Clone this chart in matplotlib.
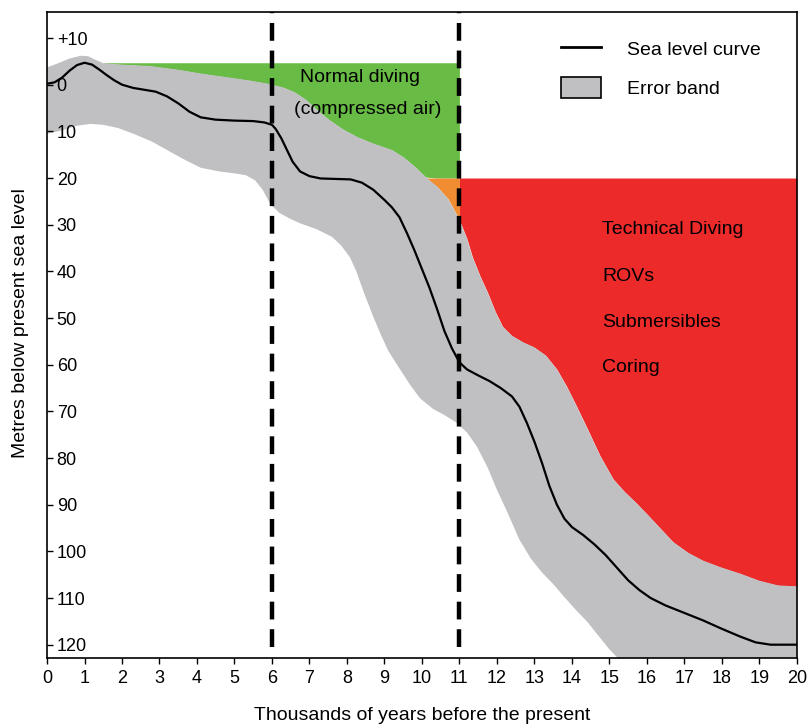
import numpy as np
import matplotlib
matplotlib.use("Agg")
import matplotlib.pyplot as plt
from matplotlib.lines import Line2D
from matplotlib.patches import Patch

plt.rcParams['font.family'] = ['Liberation Sans', 'DejaVu Sans']

# sea level curve (thousands of years BP, metres below present sea level)
curve_kyr = [0.0, 0.2, 0.4, 0.6, 0.8, 1.0, 1.2, 1.4, 1.6, 1.8, 2.0, 2.3, 2.6, 2.9, 3.2,
             3.5, 3.8, 4.1, 4.5, 5.0, 5.5, 5.8, 6.0, 6.1, 6.25, 6.4, 6.55, 6.75, 7.0,
             7.3, 7.7, 8.1, 8.4, 8.7, 9.0, 9.2, 9.4, 9.6, 9.8, 10.0, 10.2, 10.4, 10.6,
             10.8, 11.0, 11.2, 11.5, 11.8, 12.1, 12.4, 12.6, 12.8, 13.0, 13.2, 13.4,
             13.6, 13.8, 14.0, 14.3, 14.6, 14.9, 15.2, 15.5, 15.8, 16.1, 16.5, 17.0,
             17.5, 18.0, 18.5, 18.9, 19.3, 20.0]
curve_depth = [-0.2, -0.5, -1.5, -3.0, -4.2, -4.7, -4.3, -3.2, -2.0, -0.9, 0.0, 0.7, 1.1,
               1.5, 2.5, 4.0, 5.8, 7.0, 7.5, 7.7, 7.8, 8.1, 8.6, 9.5, 11.5, 14.0, 16.5,
               18.6, 19.6, 20.1, 20.2, 20.3, 21.0, 22.5, 24.7, 26.3, 28.4, 31.8, 35.5,
               39.5, 43.5, 48.0, 52.8, 56.5, 59.5, 61.0, 62.3, 63.5, 65.0, 66.8, 69.0,
               72.5, 76.5, 81.0, 86.0, 90.0, 93.0, 94.8, 96.5, 98.5, 100.8, 103.5,
               106.2, 108.3, 110.0, 111.6, 113.2, 114.8, 116.6, 118.3, 119.5, 120.0, 120.0]

# error band, shallow edge
upper_kyr = [0.0, 0.3, 0.6, 0.9, 1.1, 1.3, 1.5, 2.0, 2.75, 3.5, 4.1, 4.8, 5.4, 5.9, 6.3,
             6.6, 6.9, 7.2, 7.5, 7.9, 8.3, 8.7, 9.2, 9.5, 9.8, 10.1, 10.4, 10.7, 11.0,
             11.2, 11.35, 11.55, 11.75, 11.95, 12.15, 12.4, 12.7, 13.0, 13.3, 13.6,
             13.85, 14.1, 14.4, 14.75, 15.1, 15.4, 15.7, 16.0, 16.35, 16.7, 17.1, 17.5,
             18.0, 18.5, 19.0, 19.5, 20.0]
upper_depth = [-3.7, -4.6, -5.6, -6.2, -6.1, -5.3, -4.6, -4.3, -4.0, -3.2, -2.4, -1.6, -0.9,
               -0.2, 0.6, 1.6, 3.2, 5.4, 7.4, 9.6, 11.3, 12.6, 14.0, 15.5, 17.5, 19.8,
               21.8, 24.5, 29.0, 33.0, 37.0, 41.0, 44.5, 48.5, 51.8, 53.8, 55.2, 56.3,
               58.0, 61.0, 64.5, 68.5, 73.5, 79.5, 84.5, 87.2, 89.5, 92.0, 95.0, 98.0,
               100.3, 102.0, 103.5, 104.8, 106.3, 107.3, 107.5]

# error band, deep edge
lower_kyr = [0.0, 0.4, 0.8, 1.15, 1.5, 1.9, 2.3, 2.8, 3.2, 3.7, 4.1, 4.6, 5.0, 5.3, 5.55,
             5.75, 5.95, 6.2, 6.5, 6.75, 7.2, 7.6, 7.85, 8.08, 8.25, 8.45, 8.7, 8.9, 9.1,
             9.4, 9.7, 9.95, 10.3, 10.6, 10.9, 11.2, 11.47, 11.75, 12.0, 12.3, 12.6,
             12.9, 13.2, 13.5, 13.8, 14.1, 14.4, 14.7, 15.0, 15.3, 20.0]
lower_depth = [10.5, 9.8, 8.8, 8.4, 8.6, 9.3, 10.5, 12.2, 14.0, 16.2, 17.8, 18.6, 19.0,
               19.4, 20.5, 22.5, 25.5, 27.5, 28.8, 29.7, 31.0, 32.6, 34.5, 37.0, 40.0,
               44.5, 49.7, 53.5, 57.0, 60.8, 64.5, 67.2, 69.5, 70.8, 72.3, 74.5, 77.6,
               82.0, 86.8, 92.0, 97.5, 101.5, 104.5, 107.0, 109.8, 112.5, 115.0, 118.0,
               121.0, 123.5, 124.0]

boundaries = [6, 11]           # dashed lines
air_top = -4.7                 # top of normal diving zone
air_limit = 20                 # compressed air depth limit
green_start = 1.5

x_ticks = list(range(0, 21))
y_ticks = [-10, 0, 10, 20, 30, 40, 50, 60, 70, 80, 90, 100, 110, 120]
y_labels = ['+10', '0', '10', '20', '30', '40', '50', '60', '70', '80', '90', '100', '110', '120']

tech_labels = ['Technical Diving', 'ROVs', 'Submersibles', 'Coring']
tech_depths = [31, 41, 51, 60.5]

GREEN = '#68bc45'
ORANGE = '#f08c32'
RED = '#ec2a2a'
GREY = '#c0c0c3'

fig = plt.figure(figsize=(8.08, 7.26), dpi=100)
ax = fig.add_axes([0.0582, 0.094, 0.928, 0.889])

ux = np.array(upper_kyr)
ud = np.array(upper_depth)

# diving zones
ax.fill_between(ux, air_top, np.clip(ud, air_top, air_limit),
                where=(ux >= green_start) & (ux <= boundaries[1]), color=GREEN, lw=0, zorder=1)
ax.fill_between(ux, air_limit, np.maximum(ud, air_limit),
                where=ux <= boundaries[1], color=ORANGE, lw=0, zorder=1)
ax.fill_between(ux, air_limit, np.maximum(ud, air_limit),
                where=ux >= boundaries[1], color=RED, lw=0, zorder=1)

# error band as one polygon
ax.fill(upper_kyr + lower_kyr[::-1], upper_depth + lower_depth[::-1],
        color=GREY, lw=0, zorder=1.5)

ax.plot(curve_kyr, curve_depth, color='black', lw=1.6, zorder=3)

ax.vlines(boundaries, 120.5, -15.5, colors='black', lw=3.2,
          linestyles=(0, (4.0, 2.2)), zorder=4)

ax.text(8.35, -1.6, 'Normal diving', fontsize=14, ha='center', va='center', zorder=5)
ax.text(8.55, 5.4, '(compressed air)', fontsize=14, ha='center', va='center', zorder=5)
for lab, d in zip(tech_labels, tech_depths):
    ax.text(14.8, d, lab, fontsize=14, ha='left', va='center', zorder=5)

ax.set_xlim(0, 20)
ax.set_ylim(122.8, -15.5)
ax.set_xticks(x_ticks)
ax.set_yticks(y_ticks)
ax.set_yticklabels(y_labels)
ax.tick_params(axis='x', direction='out', length=4, width=1, labelsize=13, pad=5)
ax.tick_params(axis='y', direction='in', length=4, width=1, labelsize=13, pad=-7)
for lab in ax.get_yticklabels():
    lab.set_horizontalalignment('left')
for s in ax.spines.values():
    s.set_linewidth(1.2)

ax.set_xlabel('Thousands of years before the present', fontsize=14, labelpad=14)
fig.text(0.025, 0.555, 'Metres below present sea level', rotation=90,
         fontsize=14, ha='center', va='center')

handles = [Line2D([], [], color='black', lw=2),
           Patch(facecolor=GREY, edgecolor='black', lw=1.2)]
ax.legend(handles, ['Sea level curve', 'Error band'], loc='upper left',
          bbox_to_anchor=(0.685, 0.96), frameon=False, fontsize=14,
          handlelength=2.1, handleheight=1.3, handletextpad=1.3,
          labelspacing=0.9, borderpad=0, borderaxespad=0)

fig.savefig('out.png', dpi=100)
